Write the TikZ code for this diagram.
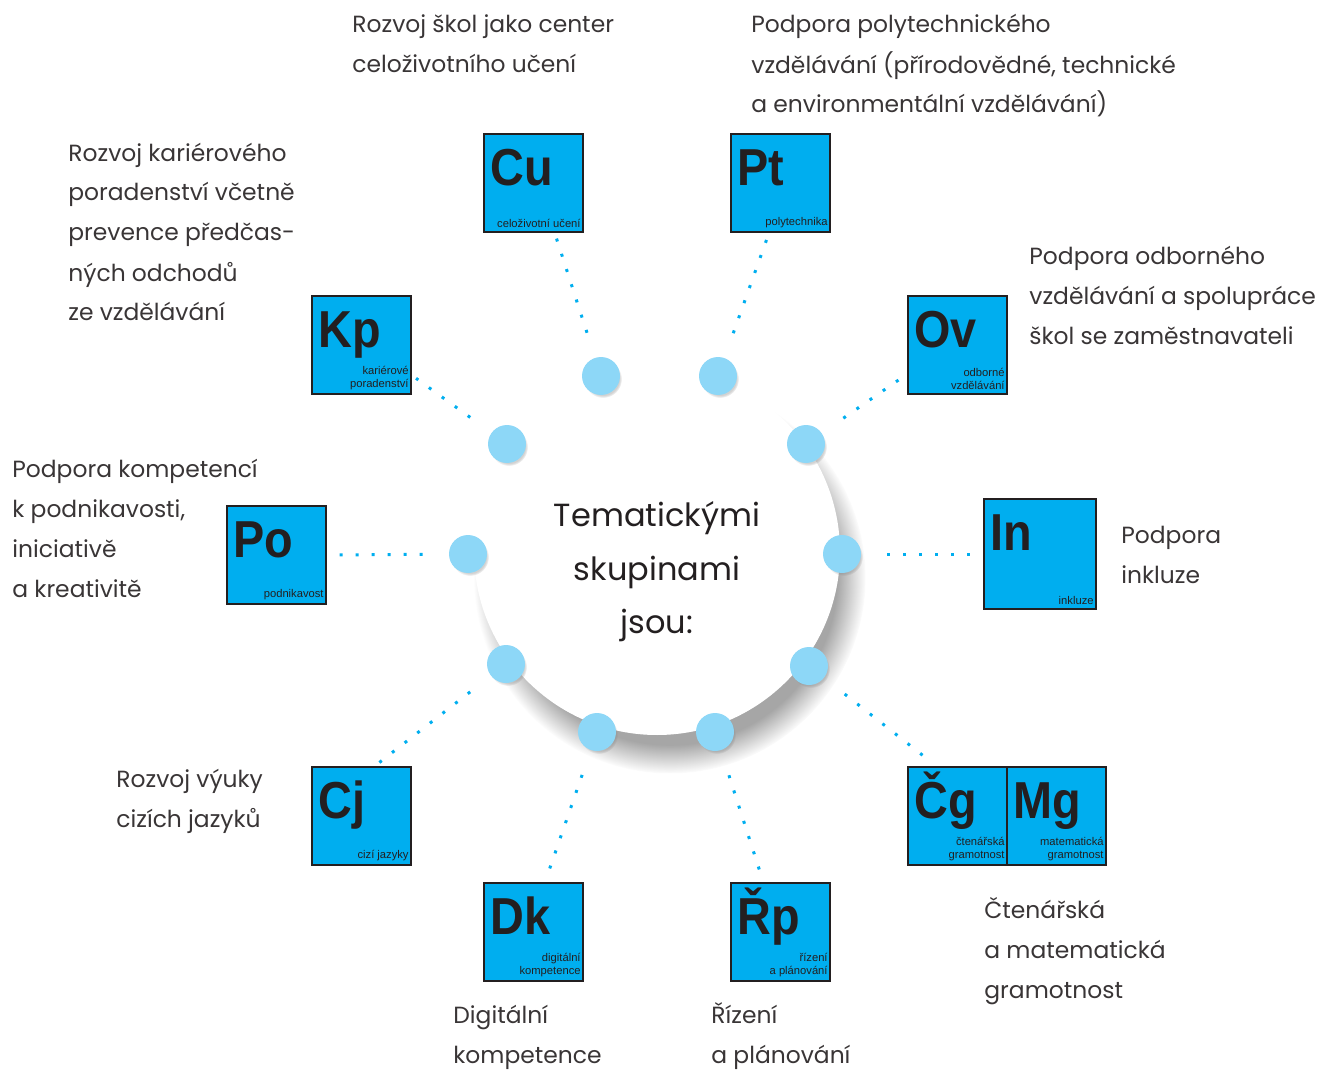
\documentclass[tikz,border=0pt]{standalone}
\usepackage{fontspec}
\setmainfont{Poppins}
\newfontfamily\symfont{Liberation Sans}[FakeStretch=0.9]
\newfontfamily\capfont{Liberation Sans}
\usetikzlibrary{positioning, shadows, calc}

\definecolor{boxblue}{HTML}{00AEEF}
\definecolor{knobblue}{HTML}{8DD7F7}
\definecolor{ink}{HTML}{231F20}

\tikzset{
  elem/.style={draw=ink, line width=1pt, fill=boxblue, minimum width=49.5pt, minimum height=49pt, inner sep=0pt, anchor=north west},
  symtxt/.style={font=\symfont\bfseries\fontsize{26}{26}\selectfont, text=ink, inner sep=0pt, anchor=base west},
  captxt/.style={font=\capfont\fontsize{5.6}{6.5}\selectfont, text=ink, inner sep=0pt, align=right, anchor=south east},
  desc/.style={font=\fontsize{11.7}{20}\selectfont, text=ink!90, inner sep=0pt, align=left, anchor=base west},
  knob/.style={circle, fill=knobblue, minimum size=19pt, inner sep=0pt,
    circular drop shadow={shadow xshift=1pt, shadow yshift=-1.5pt, shadow scale=1, opacity=0.35}},
  conn/.style={boxblue, line width=1.5pt, dash pattern=on 1.5pt off 6.5pt, shorten <=13pt, shorten >=2.5pt},
}

% box with symbol and caption
\newcommand{\elembox}[6][]{%
  \node[elem, #1] (#2) at (#3,#4) {};
  \node[symtxt] (#2sym) at ([shift={(7,52)}]#2.north west) {#5};
  \node[captxt] (#2cap) at ([shift={(-3,-5)}]#2.south east) {#6};
}

\begin{document}
\begin{tikzpicture}[x=0.5pt, y=-0.5pt]
  \useasboundingbox (0,0) rectangle (1319,1070);

  % hub
  \node[circle, fill=white, minimum size=183pt, inner sep=0pt,
    circular drop shadow={shadow xshift=6pt, shadow yshift=-12pt, shadow scale=1.07, opacity=0.7}] (hub) at (657,552) {};
  \node[font=\fontsize{16}{26.75}\selectfont, text=ink, align=center] (hubtext) at ([yshift=-10pt]hub.center)
    {Tematickými\\skupinami\\jsou:};

  % knobs round the hub
  \node[knob] (dCu) at (601,376) {};
  \node[knob] (dPt) at (718,376) {};
  \node[knob] (dKp) at (507,444) {};
  \node[knob] (dOv) at (806,444) {};
  \node[knob] (dPo) at (468,554) {};
  \node[knob] (dIn) at (842,554) {};
  \node[knob] (dCj) at (506,664) {};
  \node[knob] (dCg) at (809,666) {};
  \node[knob] (dDk) at (597,732) {};
  \node[knob] (dRp) at (715,732) {};

  % boxes
  \elembox{Cu}{483}{133}{Cu}{celoživotní učení}
  \elembox{Pt}{730}{133}{Pt}{polytechnika}
  \elembox{Kp}{311}{295}{Kp}{kariérové\\poradenství}
  \elembox{Ov}{907}{295}{Ov}{odborné\\vzdělávání}
  \elembox{Po}{226}{505}{Po}{podnikavost}
  \elembox[minimum width=56pt, minimum height=55pt]{In}{983}{498}{In}{inkluze}
  \elembox{Cj}{311}{766}{Cj}{cizí jazyky}
  \elembox{Cg}{907}{766}{Čg}{čtenářská\\gramotnost}
  \elembox{Mg}{1006}{766}{Mg}{matematická\\gramotnost}
  \elembox{Dk}{483}{882}{Dk}{digitální\\kompetence}
  \elembox{Rp}{730}{882}{Řp}{řízení\\a plánování}

  % dotted connectors
  \draw[conn] (dCu) -- (Cu.-67);
  \draw[conn] (dPt) -- (Pt.-103);
  \draw[conn] (dKp) -- (Kp.-31);
  \draw[conn] (dOv) -- (Ov.-150);
  \draw[conn] (dPo) -- (Po.east);
  \draw[conn] (dIn) -- (In.west);
  \draw[conn] (dCj) -- (Cj.75);
  \draw[conn] (dCg) -- (Cg.113);
  \draw[conn] (dDk) -- (Dk.77);
  \draw[conn] (dRp) -- (Rp.109);

  % descriptions (anchored at the last baseline)
  \node[desc] (tCu) at (352,73) {Rozvoj škol jako center\\celoživotního učení};
  \node[desc] (tPt) at (751,113) {Podpora polytechnického\\vzdělávání (přírodovědné, technické\\a environmentální vzdělávání)};
  \node[desc] (tKp) at (68,321) {Rozvoj kariérového\\poradenství včetně\\prevence předčas-\\ných odchodů\\ze vzdělávání};
  \node[desc] (tOv) at (1029,344) {Podpora odborného\\vzdělávání a spolupráce\\škol se zaměstnavateli};
  \node[desc] (tPo) at (12,597) {Podpora kompetencí\\k podnikavosti,\\iniciativě\\a kreativitě};
  \node[desc] (tIn) at (1121,583) {Podpora\\inkluze};
  \node[desc] (tCj) at (116,827) {Rozvoj výuky\\cizích jazyků};
  \node[desc] (tCg) at (984,998) {Čtenářská\\a matematická\\gramotnost};
  \node[desc] (tDk) at (453,1063) {Digitální\\kompetence};
  \node[desc] (tRp) at (711,1063) {Řízení\\a plánování};
\end{tikzpicture}
\end{document}
